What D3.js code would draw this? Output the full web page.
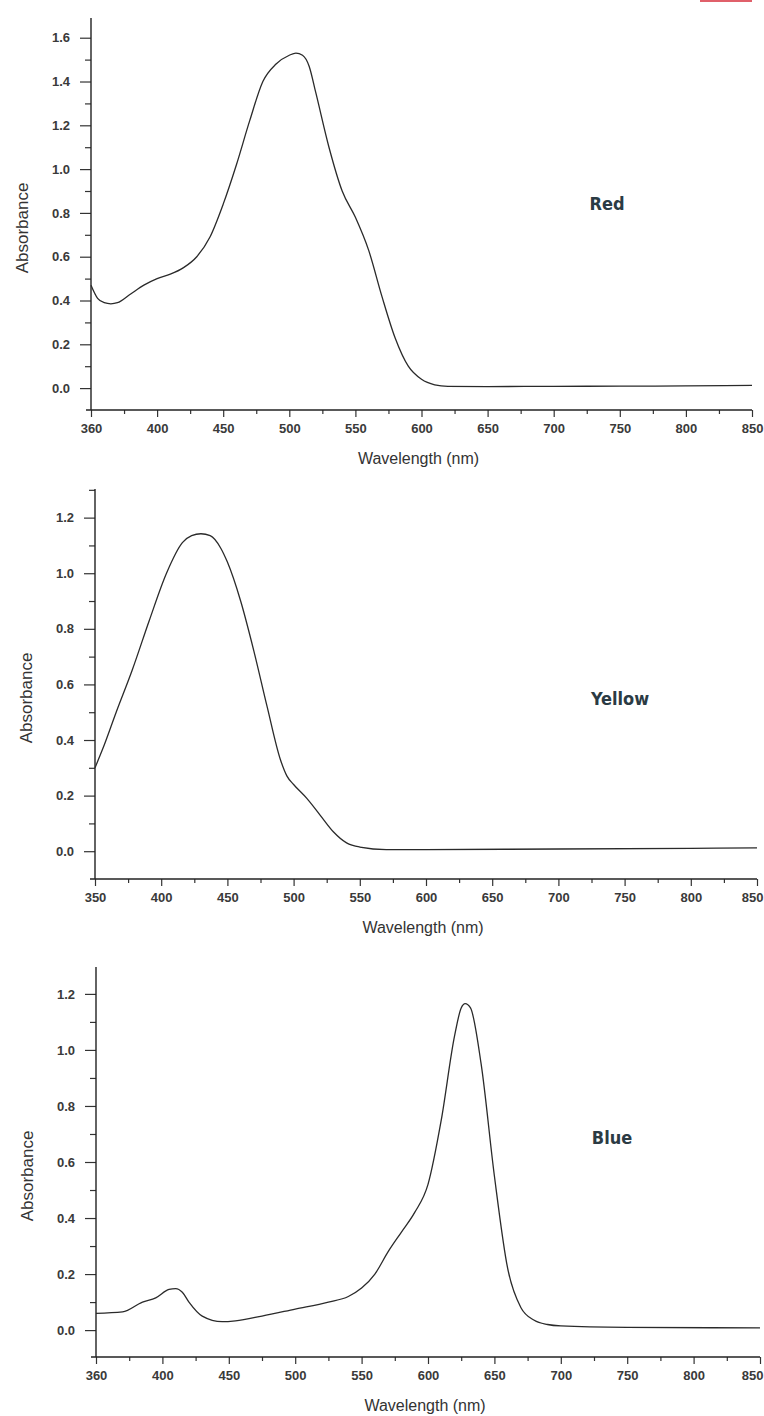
<!DOCTYPE html>
<html>
<head>
<meta charset="utf-8">
<script src="https://cdn.jsdelivr.net/npm/d3@7"></script>
<style>
  body { margin: 0; background: #fff; }
  svg { display: block; }
  .tick text { font-family: "Liberation Sans", Arial, sans-serif; font-size: 13px; font-weight: bold; fill: #3a3a3a; }
  .tick line { stroke: #333; stroke-width: 1.2; }
  .axis-title { font-family: "Liberation Sans", Arial, sans-serif; fill: #333; }
  .dye-label { font-family: "DejaVu Sans Condensed", "Liberation Sans Narrow", sans-serif; font-weight: bold; font-size: 18px; fill: #2b3b44; }
</style>
</head>
<body>
<svg id="chart" width="764" height="1416"></svg>
<script>
// 吸収スペクトル (読み取り値)
var redWavelength = [350, 355, 360, 365, 370, 380, 390, 400, 410, 420, 430, 440, 450, 460, 470, 480, 490, 500, 505, 510, 515, 520, 530, 540, 550, 560, 570, 580, 590, 600, 610, 620, 650, 700, 750, 800, 850];
var redAbsorbance = [0.47, 0.41, 0.39, 0.385, 0.39, 0.43, 0.47, 0.50, 0.52, 0.55, 0.60, 0.69, 0.84, 1.02, 1.22, 1.40, 1.48, 1.52, 1.53, 1.52, 1.47, 1.35, 1.10, 0.90, 0.78, 0.63, 0.42, 0.23, 0.10, 0.04, 0.015, 0.008, 0.007, 0.008, 0.009, 0.010, 0.012];

var yellowWavelength = [350, 356, 366, 378, 391, 404, 416, 423, 430, 437, 445, 450, 460, 470, 480, 490, 495, 500, 510, 520, 530, 540, 550, 570, 600, 700, 800, 850];
var yellowAbsorbance = [0.30, 0.37, 0.50, 0.65, 0.83, 1.00, 1.11, 1.135, 1.142, 1.135, 1.09, 1.04, 0.90, 0.72, 0.52, 0.33, 0.27, 0.24, 0.19, 0.13, 0.07, 0.03, 0.015, 0.006, 0.006, 0.008, 0.010, 0.012];

var blueWavelength = [350, 370, 385, 395, 405, 410, 415, 420, 430, 445, 455, 475, 500, 525, 540, 550, 560, 570, 580, 590, 600, 610, 620, 625, 628, 632, 640, 650, 660, 670, 680, 690, 700, 750, 850];
var blueAbsorbance = [0.06, 0.065, 0.10, 0.115, 0.145, 0.148, 0.135, 0.10, 0.05, 0.03, 0.033, 0.05, 0.075, 0.10, 0.12, 0.15, 0.20, 0.28, 0.35, 0.42, 0.52, 0.75, 1.05, 1.15, 1.165, 1.15, 0.95, 0.55, 0.22, 0.08, 0.035, 0.02, 0.015, 0.01, 0.008];

var xTickValues = [350, 400, 450, 500, 550, 600, 650, 700, 750, 800, 850];
var xTickLabels = ["360", "400", "450", "500", "550", "600", "650", "700", "750", "800", "850"];
var dyeNames = ["Red", "Yellow", "Blue"];

var panels = [
  { name: dyeNames[0], wl: redWavelength, abs: redAbsorbance, left: 91, right: 752, top: 18, bottom: 410, yMin: -0.1, yMax: 1.69, yTop: 1.6, labelX: 607, labelY: 210, xLabels: xTickLabels },
  { name: dyeNames[1], wl: yellowWavelength, abs: yellowAbsorbance, left: 95, right: 757, top: 489, bottom: 879, yMin: -0.1, yMax: 1.303, yTop: 1.2, labelX: 620, labelY: 705, xLabels: ["350"].concat(xTickLabels.slice(1)) },
  { name: dyeNames[2], wl: blueWavelength, abs: blueAbsorbance, left: 96, right: 760, top: 967, bottom: 1357, yMin: -0.096, yMax: 1.296, yTop: 1.2, labelX: 612, labelY: 1144, xLabels: xTickLabels }
];

var svg = d3.select("#chart");

// スキャン上端の赤い帯
svg.append("rect").attr("x", 700).attr("y", 0).attr("width", 52).attr("height", 2).attr("fill", "#e0606a");

panels.forEach(function(p){
  var x = d3.scaleLinear().domain([350, 850]).range([p.left, p.right]);
  var y = d3.scaleLinear().domain([p.yMin, p.yMax]).range([p.bottom, p.top]);
  var g = svg.append("g");

  var majorY = d3.range(0, p.yTop + 0.001, 0.2);
  var minorY = d3.range(0.1, p.yMax + 0.001, 0.2);
  var minorX = d3.range(375, 850, 50);

  // 目盛り
  g.append("g")
    .attr("transform", "translate(" + p.left + ",0)")
    .call(d3.axisLeft(y).tickValues(majorY).tickSize(11).tickPadding(10).tickFormat(d3.format(".1f")))
    .call(function(a){ a.select(".domain").remove(); });
  g.append("g")
    .attr("transform", "translate(" + p.left + ",0)")
    .call(d3.axisLeft(y).tickValues(minorY).tickSize(6).tickFormat(""))
    .call(function(a){ a.select(".domain").remove(); });

  g.append("g")
    .attr("transform", "translate(0," + p.bottom + ")")
    .call(d3.axisBottom(x).tickValues(xTickValues).tickSize(7).tickPadding(7)
      .tickFormat(function(d, i){ return p.xLabels[i]; }))
    .call(function(a){
      a.select(".domain").remove();
      // 右端のラベルは画面内に収める
      a.selectAll(".tick:last-of-type text")
        .attr("text-anchor", "end")
        .attr("x", 763 - p.right);
    });
  g.append("g")
    .attr("transform", "translate(0," + p.bottom + ")")
    .call(d3.axisBottom(x).tickValues(minorX).tickSize(4).tickFormat(""))
    .call(function(a){ a.select(".domain").remove(); });

  // 軸線
  g.append("line")
    .attr("x1", p.left).attr("x2", p.left)
    .attr("y1", p.top).attr("y2", p.bottom)
    .attr("stroke", "#222").attr("stroke-width", 1.4);
  g.append("line")
    .attr("x1", p.left - 5).attr("x2", p.right)
    .attr("y1", p.bottom).attr("y2", p.bottom)
    .attr("stroke", "#222").attr("stroke-width", 1.4);

  var data = p.wl.map(function(w, i){ return { wl: w, abs: p.abs[i] }; });
  var line = d3.line()
    .curve(d3.curveMonotoneX)
    .x(function(d){ return x(d.wl); })
    .y(function(d){ return y(d.abs); });

  g.append("path")
    .datum(data)
    .attr("fill", "none")
    .attr("stroke", "#2a2a2a")
    .attr("stroke-width", 1.3)
    .attr("stroke-linejoin", "round")
    .attr("d", line);

  g.append("text")
    .attr("class", "axis-title")
    .attr("transform", "translate(" + (p.left - 63) + "," + ((p.top + p.bottom) / 2 + 14) + ") rotate(-90)")
    .attr("text-anchor", "middle")
    .attr("font-size", 17)
    .text("Absorbance");

  g.append("text")
    .attr("class", "axis-title")
    .attr("x", (p.left + p.right) / 2 - 3)
    .attr("y", p.bottom + 54)
    .attr("text-anchor", "middle")
    .attr("font-size", 16)
    .text("Wavelength (nm)");

  g.append("text")
    .attr("class", "dye-label")
    .attr("x", p.labelX)
    .attr("y", p.labelY)
    .attr("text-anchor", "middle")
    .text(p.name);
});
</script>
</body>
</html>
